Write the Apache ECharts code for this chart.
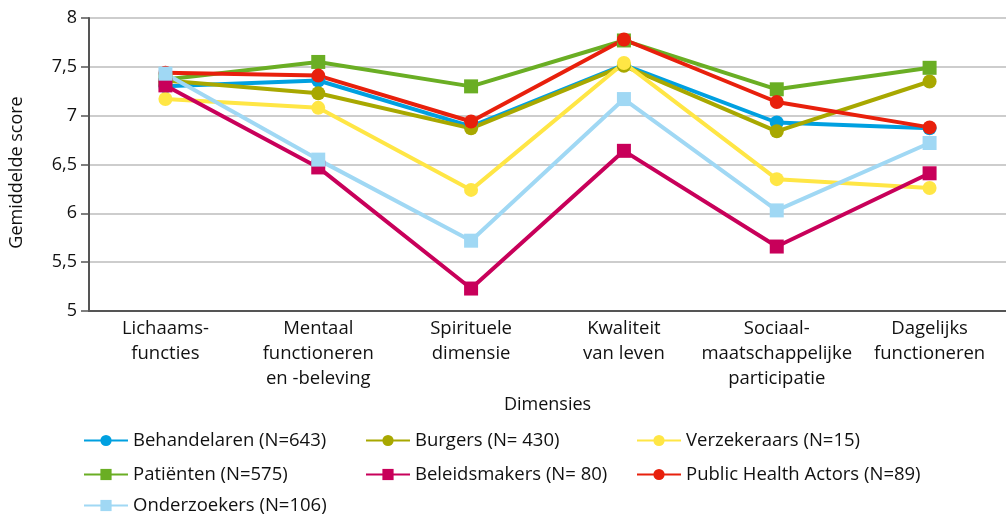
<!DOCTYPE html>
<html><head><meta charset="utf-8">
<script src="https://cdn.jsdelivr.net/npm/echarts@6/dist/echarts.min.js"></script>
<style>html,body{margin:0;padding:0;background:#fff}#c{width:1006px;height:514px}</style>
</head><body><div id="c"></div>
<script>
var categories = ['Lichaams-\nfuncties','Mentaal\nfunctioneren\nen -beleving','Spirituele\ndimensie','Kwaliteit\nvan leven','Sociaal-\nmaatschappelijke\nparticipatie','Dagelijks\nfunctioneren'];
var behandelaren = [7.30, 7.36, 6.89, 7.52, 6.93, 6.87];
var burgers      = [7.36, 7.23, 6.87, 7.51, 6.84, 7.35];
var verzekeraars = [7.17, 7.08, 6.24, 7.54, 6.35, 6.26];
var patienten    = [7.37, 7.55, 7.30, 7.77, 7.27, 7.49];
var beleidsmakers= [7.31, 6.47, 5.23, 6.64, 5.66, 6.41];
var pha          = [7.44, 7.41, 6.94, 7.78, 7.14, 6.88];
var onderzoekers = [7.43, 6.55, 5.72, 7.17, 6.03, 6.72];
var yTicks = [5, 5.5, 6, 6.5, 7, 7.5, 8];

var F = 'Open Sans';
function s(name, data, color, sym){
  return {name:name, type:'line', data:data, symbol:sym, symbolSize: 14,
    lineStyle:{color:color,width:4}, itemStyle:{color:color}, emphasis:{disabled:true}};
}
function lg(left, top, name){
  return {left:left, top:top, orient:'horizontal', itemWidth:44, itemHeight:14,
    data:[name], textStyle:{fontFamily:F,fontSize:18.5,color:'#111'}, selectedMode:false, padding:0};
}
var rows = [431, 465, 496];
var chart = echarts.init(document.getElementById('c'));
chart.setOption({
  animation:false,
  grid:{left:89, right:-7, top:18, bottom:203},
  legend:[lg(83,rows[0],'Behandelaren (N=643)'), lg(365,rows[0],'Burgers (N= 430)'), lg(636,rows[0],'Verzekeraars (N=15)'),
          lg(83,rows[1],'Patiënten (N=575)'), lg(365,rows[1],'Beleidsmakers (N= 80)'), lg(636,rows[1],'Public Health Actors (N=89)'),
          lg(83,rows[2],'Onderzoekers (N=106)')],
  xAxis:{type:'category', data:categories, boundaryGap:true,
    name:'Dimensies', nameLocation:'middle', nameGap:77,
    nameTextStyle:{fontFamily:F,fontSize:18,color:'#111'},
    axisLine:{lineStyle:{color:'#555',width:2}},
    axisTick:{alignWithLabel:true, length:7, lineStyle:{color:'#555',width:1.5}},
    axisLabel:{fontFamily:F,fontSize:18.5,color:'#111',lineHeight:25,margin:5,interval:0}},
  yAxis:{type:'value', min:5, max:8, interval:0.5,
    name:'Gemiddelde score', nameLocation:'middle', nameGap:63,
    nameTextStyle:{fontFamily:F,fontSize:18,color:'#111',padding:[0,16,0,0]},
    axisLine:{show:true,lineStyle:{color:'#555',width:2}},
    axisTick:{show:true,length:8,lineStyle:{color:'#555',width:1.5}},
    axisLabel:{fontFamily:F,fontSize:18,color:'#111',margin:12,
      formatter:function(v){return String(v).replace('.',',');}},
    splitLine:{lineStyle:{color:'#bdbdbd',width:1.5}}},
  series:[
    s('Behandelaren (N=643)', behandelaren, '#00a0e0', 'circle'),
    s('Burgers (N= 430)', burgers, '#a8a800', 'circle'),
    s('Verzekeraars (N=15)', verzekeraars, '#ffe645', 'circle'),
    s('Patiënten (N=575)', patienten, '#6aae24', 'rect'),
    s('Beleidsmakers (N= 80)', beleidsmakers, '#c8005a', 'rect'),
    s('Public Health Actors (N=89)', pha, '#e8200c', 'circle'),
    s('Onderzoekers (N=106)', onderzoekers, '#a0d8f4', 'rect')
  ]
});
</script></body></html>
